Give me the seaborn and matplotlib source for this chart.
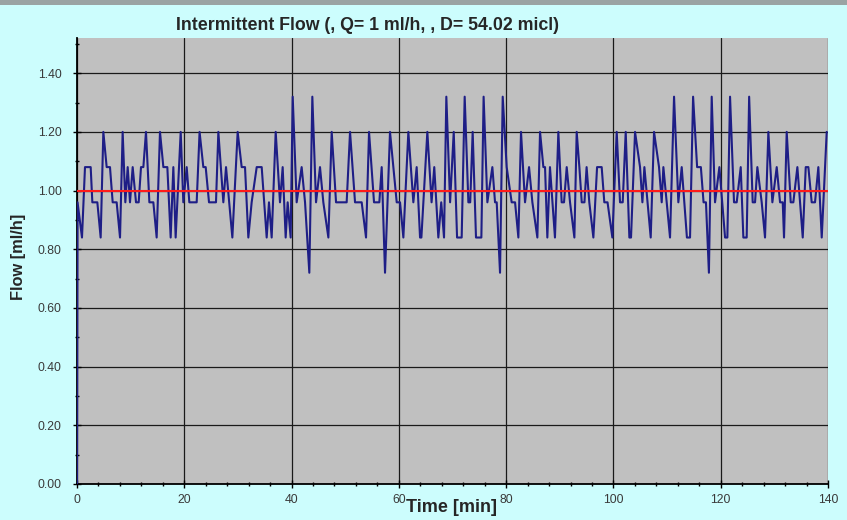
import matplotlib
matplotlib.use("Agg")
import matplotlib.pyplot as plt
from matplotlib.patches import Rectangle
from matplotlib.ticker import MultipleLocator, FormatStrFormatter
import seaborn as sns
import pandas as pd

# flow readings (vertices), time in minutes
time_min = [
    0.0, 0.1, 0.93, 1.49, 2.55, 2.86, 3.79, 4.41, 4.91, 5.53, 6.15, 6.65, 7.39, 8.02,
    8.51, 9.01, 9.45, 9.88, 10.38, 11.0, 11.5, 11.93, 12.37, 12.86, 13.49, 14.23, 14.85,
    15.47, 16.1, 16.84, 17.46, 17.96, 18.39, 19.33, 19.82, 20.45, 20.94, 22.31, 22.85,
    23.55, 23.99, 24.61, 25.91, 26.35, 27.28, 27.78, 28.96, 29.95, 30.7, 31.32, 31.94,
    32.56, 33.5, 34.43, 35.36, 35.79, 36.29, 37.04, 37.84, 38.34, 38.9, 39.27, 39.83,
    40.21, 40.95, 41.88, 42.51, 43.31, 43.87, 44.56, 45.3, 45.92, 46.86, 47.48, 48.29,
    50.27, 50.9, 51.83, 53.07, 53.88, 54.44, 55.37, 56.36, 56.8, 57.42, 58.35, 59.6,
    60.22, 60.84, 61.77, 62.7, 63.32, 63.95, 64.2, 65.31, 66.1, 66.6, 67.36, 67.9,
    68.42, 68.85, 69.55, 70.23, 70.85, 71.71, 72.27, 72.96, 73.3, 73.76, 74.38, 75.38,
    75.8, 76.5, 77.43, 77.93, 78.24, 78.86, 79.36, 80.1, 81.03, 81.66, 82.28, 82.77,
    83.52, 84.27, 84.89, 85.82, 86.32, 86.94, 87.25, 87.68, 88.17, 89.1, 89.73, 90.35,
    90.79, 91.29, 91.91, 92.72, 93.15, 93.65, 94.09, 94.6, 95.0, 95.5, 96.26, 96.95,
    97.81, 98.3, 98.9, 99.8, 100.61, 101.23, 101.73, 102.29, 102.97, 103.28, 104.03,
    104.96, 105.4, 105.77, 106.95, 107.57, 108.5, 109.0, 109.31, 110.55, 111.3, 112.1,
    112.73, 113.7, 114.28, 114.85, 115.6, 116.3, 116.8, 117.25, 117.8, 118.32, 118.94,
    119.75, 120.81, 121.24, 121.74, 122.48, 122.98, 123.73, 124.22, 124.84, 125.3,
    125.96, 126.4, 126.83, 127.64, 128.26, 128.88, 129.63, 130.44, 131.06, 131.56,
    131.8, 132.3, 133.05, 133.54, 134.29, 135.29, 135.85, 136.34, 136.96, 137.58,
    138.2, 138.83, 139.76,
]
flow_mlh = [
    0.0, 0.96, 0.84, 1.08, 1.08, 0.96, 0.96, 0.84, 1.20, 1.08, 1.08, 0.96, 0.96, 0.84,
    1.20, 0.96, 1.08, 0.96, 1.08, 0.96, 0.96, 1.08, 1.08, 1.20, 0.96, 0.96, 0.84,
    1.20, 1.08, 1.08, 0.84, 1.08, 0.84, 1.20, 0.96, 1.08, 0.96, 0.96, 1.20,
    1.08, 1.08, 0.96, 0.96, 1.20, 0.96, 1.08, 0.84, 1.20, 1.08, 1.08, 0.84,
    0.96, 1.08, 1.08, 0.84, 0.96, 0.84, 1.20, 0.96, 1.08, 0.84, 0.96, 0.84,
    1.32, 0.96, 1.08, 0.96, 0.72, 1.32, 0.96, 1.08, 0.96, 0.84, 1.20, 0.96,
    0.96, 1.20, 0.96, 0.96, 0.84, 1.20, 0.96, 0.96, 1.08, 0.72, 1.20, 0.96,
    0.96, 0.84, 1.20, 0.96, 1.08, 0.84, 0.84, 1.20, 0.96, 1.08, 0.84, 0.96,
    0.84, 1.32, 0.96, 1.20, 0.84, 0.84, 1.32, 0.96, 0.96, 1.20, 0.84, 0.84,
    1.32, 0.96, 1.08, 0.96, 0.96, 0.72, 1.32, 1.08, 0.96, 0.96, 0.84, 1.20,
    0.96, 1.08, 0.96, 0.84, 1.20, 1.08, 1.08, 0.84, 1.08, 0.84, 1.20, 0.96,
    0.96, 1.08, 0.96, 0.84, 1.20, 1.08, 0.96, 0.96, 1.08, 0.96, 0.84, 1.08,
    1.08, 0.96, 0.96, 0.84, 1.20, 0.96, 0.96, 1.20, 0.84, 0.84, 1.20,
    1.08, 0.96, 1.08, 0.84, 1.20, 1.08, 0.96, 1.08, 0.84, 1.32, 0.96,
    1.08, 0.84, 0.84, 1.32, 1.08, 1.08, 0.96, 0.96, 0.72, 1.32, 0.96,
    1.08, 0.84, 0.84, 1.32, 0.96, 0.96, 1.08, 0.84, 0.84, 1.32,
    0.96, 0.96, 1.08, 0.96, 0.84, 1.20, 0.96, 1.08, 0.96, 0.96,
    0.84, 1.20, 0.96, 0.96, 1.08, 0.84, 1.08, 1.08, 0.96, 0.96,
    1.08, 0.84, 1.20,
]

# nominal flow Q = 1 ml/h
ref_time = [0, 140]
ref_flow = [1.0, 1.0]

title = "Intermittent Flow (, Q= 1 ml/h, , D= 54.02 micl)"
x_label = "Time [min]"
y_label = "Flow [ml/h]"

bg_color = "#ccfdfd"
plot_color = "#c0c0c0"
line_color = "#1e1e86"

sns.set_style("ticks")
plt.rcParams["font.family"] = ["Liberation Sans", "DejaVu Sans"]

flow = pd.DataFrame({"time": time_min, "flow": flow_mlh})
ref = pd.DataFrame({"time": ref_time, "flow": ref_flow})

fig = plt.figure(figsize=(8.47, 5.2), dpi=100, facecolor=bg_color)
ax = fig.add_axes([77 / 847, 36 / 520, 751 / 847, 446 / 520])
ax.set_facecolor(plot_color)

sns.lineplot(data=flow, x="time", y="flow", ax=ax, color=line_color, linewidth=1.5,
             sort=False, estimator=None, zorder=3)
sns.lineplot(data=ref, x="time", y="flow", ax=ax, color="#ff1a1a", linewidth=1.5,
             sort=False, estimator=None, zorder=4)

ax.set_xlim(0, 140)
ax.set_ylim(0, 1.52)
ax.xaxis.set_major_locator(MultipleLocator(20))
ax.xaxis.set_minor_locator(MultipleLocator(4))
ax.yaxis.set_major_locator(MultipleLocator(0.2))
ax.yaxis.set_minor_locator(MultipleLocator(0.1))
ax.yaxis.set_major_formatter(FormatStrFormatter("%.2f"))

ax.grid(which="major", color="#1a1a1a", linewidth=0.9, zorder=1)
ax.set_axisbelow(True)
ax.tick_params(which="major", direction="inout", length=6, width=1, colors="black",
               labelcolor="#3a3a3a", labelsize=8.8, pad=4)
ax.tick_params(axis="y", which="major", pad=8)
ax.tick_params(which="minor", direction="inout", length=3, width=1, colors="black")

for side in ["top", "right"]:
    ax.spines[side].set_visible(False)
for side in ["left", "bottom"]:
    ax.spines[side].set_color("black")
    ax.spines[side].set_linewidth(1.3)

ax.set_xlabel("")
ax.set_ylabel("")
fig.text(367 / 847, 1 - 25 / 520, title, ha="center", va="center",
         fontsize=12.8, fontweight="bold")
fig.text(451 / 847, 1 - 508 / 520, x_label, ha="center", va="center",
         fontsize=13, fontweight="bold")
fig.text(18 / 847, 1 - 257 / 520, y_label, ha="center", va="center", rotation=90,
         fontsize=11.8, fontweight="bold")

# grey strip along the top edge of the picture
fig.add_artist(Rectangle((0, 1 - 5 / 520), 1, 5 / 520, transform=fig.transFigure,
                         facecolor="#9aa3a3", edgecolor="none"))

fig.savefig("out.png", dpi=100, facecolor=fig.get_facecolor())
